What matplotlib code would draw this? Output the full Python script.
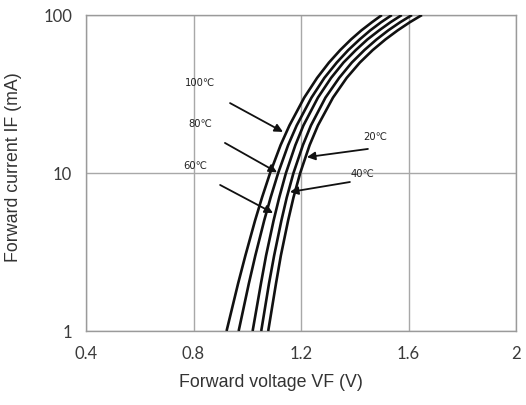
import matplotlib
matplotlib.use("Agg")
import matplotlib.pyplot as plt

plt.rcParams['font.family'] = ['Liberation Sans', 'DejaVu Sans']

# Forward current (mA)
current = [1, 2, 3, 5, 7, 10, 15, 20, 30, 40, 50, 60, 70, 80, 90, 100]

# Forward voltage (V) for each temperature
vf_100 = [0.923, 0.966, 0.993, 1.029, 1.055, 1.085, 1.124, 1.157, 1.212, 1.260, 1.304, 1.346, 1.386, 1.425, 1.464, 1.501]
vf_80 = [0.968, 1.006, 1.030, 1.063, 1.087, 1.115, 1.152, 1.184, 1.239, 1.287, 1.333, 1.376, 1.418, 1.458, 1.498, 1.538]
vf_60 = [1.020, 1.051, 1.070, 1.098, 1.119, 1.144, 1.179, 1.209, 1.263, 1.312, 1.358, 1.404, 1.447, 1.491, 1.533, 1.575]
vf_40 = [1.052, 1.081, 1.100, 1.127, 1.147, 1.172, 1.207, 1.237, 1.291, 1.342, 1.389, 1.436, 1.481, 1.525, 1.569, 1.613]
vf_20 = [1.078, 1.107, 1.125, 1.152, 1.172, 1.197, 1.232, 1.263, 1.319, 1.370, 1.419, 1.467, 1.514, 1.560, 1.605, 1.650]

x_ticks = [0.4, 0.8, 1.2, 1.6, 2.0]
x_tick_labels = ['0.4', '0.8', '1.2', '1.6', '2']
y_ticks = [1, 10, 100]
y_tick_labels = ['1', '10', '100']

# annotation labels: (text, text position, arrow tail, arrow head)
labels = ['100℃', '80℃', '60℃', '20℃', '40℃']
label_pos = [(0.824, 37.1), (0.824, 20.4), (0.806, 11.1), (1.475, 16.9), (1.427, 9.86)]
arrow_tail = [(0.936, 27.7), (0.917, 15.5), (0.899, 8.4), (1.449, 14.2), (1.382, 8.77)]
arrow_head = [(1.133, 18.2), (1.111, 10.1), (1.096, 5.58), (1.222, 12.6), (1.159, 7.58)]

fig = plt.figure(figsize=(5.26, 4.05), dpi=100)
ax = fig.add_axes([86/526, 1-331/405, (516-86)/526, (331-15)/405])

for v in [vf_100, vf_80, vf_60, vf_40, vf_20]:
    ax.plot(v, current, color='#111111', lw=1.9, solid_capstyle='butt', clip_on=True, zorder=3)

ax.set_yscale('log')
ax.set_xlim(0.4, 2.0)
ax.set_ylim(1, 100)
ax.set_xticks(x_ticks)
ax.set_xticklabels(x_tick_labels)
ax.set_yticks(y_ticks)
ax.set_yticklabels(y_tick_labels)
ax.minorticks_off()
ax.tick_params(length=0, labelsize=12, labelcolor='#3a3a3a')
ax.tick_params(axis='x', pad=11)
ax.tick_params(axis='y', pad=10)
for lab in ax.get_xticklabels() + ax.get_yticklabels():
    lab.set_family(['Lato', 'DejaVu Sans'])

ax.grid(True, color='#a8a8a8', lw=1.0)
for s in ax.spines.values():
    s.set_color('#9a9a9a')
    s.set_linewidth(1.0)

ax.set_xlabel('Forward voltage VF (V)', fontsize=12.8, color='#333333', labelpad=8)
ax.xaxis.set_label_coords(0.43, -0.135)
ax.set_ylabel('Forward current IF (mA)', fontsize=12.8, color='#333333')
ax.yaxis.set_label_coords(-0.148, 0.52)

for t, p, tail, head in zip(labels, label_pos, arrow_tail, arrow_head):
    ax.text(p[0], p[1], t, fontsize=7.2, ha='center', va='center', color='#222222',
            family=['DejaVu Sans'])
    ax.annotate('', xy=head, xytext=tail,
                arrowprops=dict(arrowstyle='-|>', color='#111111', lw=1.3,
                                mutation_scale=12, shrinkA=0, shrinkB=0), zorder=4)

fig.savefig('out.png', dpi=100)
